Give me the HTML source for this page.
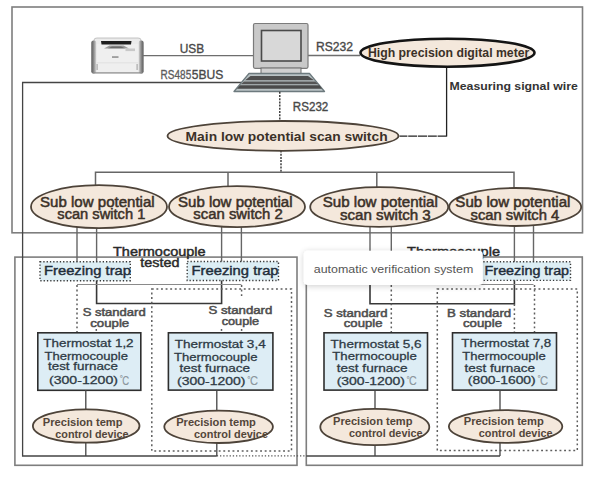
<!DOCTYPE html>
<html><head><meta charset="utf-8">
<style>
html,body{margin:0;padding:0;background:#fff;width:600px;height:477px;overflow:hidden}
svg{position:absolute;left:0;top:0}
text{font-family:"Liberation Sans",sans-serif}
.tip{position:absolute;left:304px;top:251px;width:178px;height:34px;background:#fff;border-radius:4px;box-shadow:0 1px 4px rgba(0,0,0,0.18);font-family:"Liberation Sans",sans-serif;font-size:12.4px;color:#555;line-height:34px;box-sizing:border-box;padding-left:10px;white-space:nowrap}
</style></head><body>
<svg width="600" height="477" viewBox="0 0 600 477">
<!-- frames -->
<g fill="none" stroke="#7e7e7e" stroke-width="1.6">
<rect x="12" y="7" width="570.5" height="225.8"/>
<rect x="14.9" y="257.1" width="282.1" height="208.2"/>
<rect x="306.3" y="257" width="276" height="208.3"/>
</g>
<!-- printer -->
<defs>
<linearGradient id="pl" x1="0" x2="1" y1="0" y2="0"><stop offset="0" stop-color="#5a5a5a"/><stop offset="0.5" stop-color="#8d8d8d"/><stop offset="1" stop-color="#d6d6d6"/></linearGradient>
<linearGradient id="pr" x1="0" x2="1" y1="0" y2="0"><stop offset="0" stop-color="#d6d6d6"/><stop offset="0.5" stop-color="#8d8d8d"/><stop offset="1" stop-color="#5a5a5a"/></linearGradient>
</defs>
<g>
<path d="M94 40 Q94 38 97 38 L138 38 Q141 38 141 40 L141 48 L94 48 Z" fill="#ebebeb" stroke="#b5b5b5" stroke-width="0.8"/>
<rect x="91.5" y="44" width="52" height="29.5" rx="2.5" fill="#efefef"/>
<rect x="91.3" y="40.5" width="5" height="33" rx="2.2" fill="url(#pl)"/>
<rect x="138.6" y="40.5" width="5" height="33" rx="2.2" fill="url(#pr)"/>
<path d="M101 41 L131.5 41 L131 44.6 L101.5 44.6 Z" fill="#1e1e1e"/>
<path d="M104 48.5 L129 48.5 L123.5 45.5 L109.5 45.5 Z" fill="#9a9a9a"/>
<path d="M108 48.3 L125 48.3 L121 46.5 L112 46.5 Z" fill="#6a6a6a"/>
<rect x="125.5" y="48.5" width="9.5" height="2.6" fill="#c8c8c8"/>
<rect x="112" y="56.3" width="6.5" height="1.5" fill="#8a8a8a"/>
<rect x="96.5" y="64" width="1.2" height="6" fill="#aaa"/>
<rect x="136.5" y="64" width="1.2" height="6" fill="#aaa"/>
<rect x="97" y="62.5" width="41" height="0.8" fill="#dcdcdc"/>
<rect x="92.5" y="72.3" width="50" height="1.2" fill="#8a8a8a"/>
</g>
<!-- USB / RS485 lines -->
<g stroke="#6e6e6e" stroke-width="1.3" fill="none">
<line x1="143" y1="55.7" x2="253" y2="55.7"/>
<line x1="308" y1="55.5" x2="360" y2="55.5"/>
</g>
<g stroke="#444" stroke-width="1.3" fill="none">
<polyline points="241.5,82.5 22.6,82.5 22.6,456 216.8,456"/>
<line x1="306.3" y1="456" x2="500" y2="456"/>
</g>
<line x1="216.8" y1="455.8" x2="306" y2="455.8" stroke="#555" stroke-width="1.3" stroke-dasharray="1.3 1.9"/>
<!-- computer -->
<g>
<rect x="253.5" y="23.5" width="54.5" height="44.8" rx="1.5" fill="#c9c9c9" stroke="#7b7b7b" stroke-width="1.2"/>
<rect x="261.5" y="30.5" width="39.5" height="30.5" fill="#d8d8d8" stroke="#4a4a4a" stroke-width="1.6"/>
<rect x="261" y="68" width="40" height="5.6" fill="#d0d0d0" stroke="#6a6a6a" stroke-width="1"/>
<path d="M249 73.5 L309.5 73.5 L324.5 91.5 L234 91.5 Z" fill="#b9c2c4" stroke="#6d7a7e" stroke-width="1.3" stroke-linejoin="round"/>
<path d="M250.5 76 L308 76 L314 80.3 L245 80.3 Z" fill="#4e4e4e"/>
<path d="M244 81.5 L315 81.5 L318.5 84.3 L241 84.3 Z" fill="#555"/>
<path d="M240 85.3 L319.5 85.3 L322 88.8 L237 88.8 Z" fill="#4a4a4a"/>
</g>
<!-- dashed vertical -->
<g stroke="#222" stroke-width="1.3" stroke-dasharray="2 1.2" fill="none">
<line x1="279.8" y1="91.8" x2="279.8" y2="120.5"/>
<line x1="281" y1="150.5" x2="281" y2="172.3"/>
<line x1="446.6" y1="136.2" x2="399.5" y2="136.2" stroke-dasharray="9 0.8"/>
</g>
<line x1="446.6" y1="67.3" x2="446.6" y2="136.5" stroke="#222" stroke-width="1.3"/>
<!-- meter ellipse -->
<ellipse cx="447.5" cy="52.7" rx="87" ry="14" fill="#f4e8dc" stroke="#141414" stroke-width="2.6"/>
<!-- main ellipse -->
<ellipse cx="283" cy="135.9" rx="115.5" ry="14.9" fill="#f4e8dc" stroke="#4d4339" stroke-width="1.8"/>
<!-- tree lines -->
<g stroke="#666" stroke-width="1.5" fill="none">
<polyline points="95.5,185 95.5,172.3 514,172.3 514,188"/>
<line x1="228" y1="172.3" x2="228" y2="186"/>
<line x1="376.8" y1="172.3" x2="376.8" y2="187.3"/>
</g>
<!-- lines from sub switches down -->
<g stroke="#666" stroke-width="1.4" fill="none">
<line x1="77" y1="226" x2="77" y2="262"/>
<line x1="96.6" y1="228" x2="96.6" y2="262"/>
<line x1="221.6" y1="226" x2="221.6" y2="262"/>
<line x1="241.4" y1="226" x2="241.4" y2="262"/>
<line x1="391.3" y1="226" x2="391.3" y2="262"/>
<line x1="370" y1="226" x2="370" y2="262"/>
<line x1="514.4" y1="226" x2="514.4" y2="262"/>
<line x1="533.5" y1="226" x2="533.5" y2="262"/>
</g>
<g stroke="#383838" stroke-width="1.6" fill="none">
<polyline points="96.6,262 96.6,303.5 221.6,303.5 221.6,262"/>
<polyline points="370,262 370,303.7 514.4,303.7 514.4,262"/>
</g>
<!-- sub ellipses -->
<g fill="#f4e8dc" stroke="#4d4339" stroke-width="1.8">
<ellipse cx="99" cy="206.7" rx="68" ry="21.5"/>
<ellipse cx="237" cy="206.7" rx="68" ry="20.5"/>
<ellipse cx="379.2" cy="207" rx="69" ry="19.8"/>
<ellipse cx="515.2" cy="207" rx="66" ry="19"/>
</g>
<!-- gray joiner lines -->
<g stroke="#8a8a8a" stroke-width="1.2">
<line x1="77" y1="284.5" x2="241.4" y2="284.5"/>
<line x1="391.3" y1="284.5" x2="533.5" y2="284.5"/>
</g>
<!-- dotted lines -->
<g stroke="#5e5e5e" stroke-width="1.5" stroke-dasharray="1.9 2.7" fill="none">
<line x1="77" y1="285" x2="77" y2="332"/>
<line x1="241.6" y1="285" x2="241.6" y2="298"/>
<line x1="241.6" y1="329" x2="241.6" y2="332"/>
<line x1="221.5" y1="329" x2="221.5" y2="332"/>
<line x1="96.3" y1="329" x2="96.3" y2="332"/>
<line x1="534.5" y1="285" x2="534.5" y2="332"/>
<rect x="151.8" y="289" width="139.7" height="162"/>
<line x1="391.3" y1="285" x2="391.3" y2="332"/>
<line x1="514.4" y1="304" x2="514.4" y2="332"/>
<rect x="437.3" y="289" width="140" height="161.5"/>
</g>
<!-- freezing traps -->
<g fill="#ddeef4" stroke="#3a3a3a" stroke-width="1.4" stroke-dasharray="1.3 2"> 
<rect x="40" y="261.7" width="90.3" height="19"/>
<rect x="187.2" y="261.5" width="91.3" height="19"/>
<rect x="336" y="261.5" width="91.3" height="19"/>
<rect x="480" y="261.8" width="90.5" height="18.6"/>
</g>
<!-- thermostat boxes -->
<g fill="#ddedf5" stroke="#2e2e2e" stroke-width="1.6">
<rect x="37.8" y="332.8" width="103" height="57.5"/>
<rect x="168.4" y="332.8" width="104.5" height="57.3"/>
<rect x="324" y="332.8" width="103.5" height="57.3"/>
<rect x="452.5" y="332.8" width="104" height="57.3"/>
</g>
<!-- lines to precision devices -->
<g stroke="#444" stroke-width="1.3">
<line x1="85.8" y1="390" x2="85.8" y2="456"/>
<line x1="216.8" y1="390" x2="216.8" y2="456"/>
<line x1="375" y1="390" x2="375" y2="456"/>
<line x1="500" y1="390" x2="500" y2="456"/>
</g>
<!-- precision ellipses -->
<g fill="#f4e8dc" stroke="#4d4339" stroke-width="1.8">
<ellipse cx="86.2" cy="426" rx="53.3" ry="16.7"/>
<ellipse cx="218.6" cy="426.8" rx="54.3" ry="16.2"/>
<ellipse cx="374.8" cy="427" rx="54.5" ry="18.2"/>
<ellipse cx="505.6" cy="426.5" rx="56.7" ry="16.4"/>
</g>

<!-- TEXT -->
<g fill="#484848" font-size="12.5" stroke="#484848" stroke-width="0.35">
<text x="179.7" y="52.8" textLength="24.5" lengthAdjust="spacingAndGlyphs">USB</text>
<text x="160.6" y="79.2" font-size="13" fill="#5c5c5c" stroke="#5c5c5c" textLength="30.6" lengthAdjust="spacingAndGlyphs">RS485</text>
<text x="191.8" y="79.2" font-size="13" textLength="31.5" lengthAdjust="spacingAndGlyphs">5BUS</text>
<text x="316" y="50.6" font-size="12.2" textLength="37" lengthAdjust="spacingAndGlyphs">RS232</text>
<text x="292.8" y="110.6" font-size="12" textLength="35.5" lengthAdjust="spacingAndGlyphs">RS232</text>
</g>
<g fill="#3b3128" font-weight="bold">
<text x="368" y="57.2" font-size="12" textLength="161.3" lengthAdjust="spacingAndGlyphs">High precision digital meter</text>
<text x="185.6" y="140.6" font-size="12.4" textLength="202" lengthAdjust="spacingAndGlyphs">Main low potential scan switch</text>
</g>
<text x="449.5" y="90.4" font-size="11.6" font-weight="bold" fill="#333" textLength="128.3" lengthAdjust="spacingAndGlyphs">Measuring signal wire</text>
<!-- sub texts -->
<g fill="#3b3128" font-size="14" stroke="#3b3128" stroke-width="0.5">
<text x="40" y="206.7" textLength="114.7" lengthAdjust="spacingAndGlyphs">Sub low potential</text>
<text x="57.3" y="219.3" textLength="88" lengthAdjust="spacingAndGlyphs">scan switch 1</text>
<text x="178" y="206.7" textLength="114.5" lengthAdjust="spacingAndGlyphs">Sub low potential</text>
<text x="193.3" y="219.3" textLength="89.4" lengthAdjust="spacingAndGlyphs">scan switch 2</text>
<text x="322.7" y="206.7" textLength="115.2" lengthAdjust="spacingAndGlyphs">Sub low potential</text>
<text x="340" y="219.8" textLength="90.7" lengthAdjust="spacingAndGlyphs">scan switch 3</text>
<text x="455.3" y="206.7" textLength="115.2" lengthAdjust="spacingAndGlyphs">Sub low potential</text>
<text x="470.5" y="219.9" textLength="88.8" lengthAdjust="spacingAndGlyphs">scan switch 4</text>
</g>
<!-- thermocouple tested -->
<g fill="#2a2a2a" font-size="12.8" stroke="#2a2a2a" stroke-width="0.45">
<text x="113" y="256" textLength="92.6" lengthAdjust="spacingAndGlyphs">Thermocouple</text>
<text x="140.3" y="267" textLength="39.2" lengthAdjust="spacingAndGlyphs">tested</text>
<text x="407" y="256" textLength="93" lengthAdjust="spacingAndGlyphs">Thermocouple</text>
<text x="434" y="267" textLength="39.2" lengthAdjust="spacingAndGlyphs">tested</text>
</g>
<!-- freezing trap text -->
<g fill="#1f2d3a" font-size="12.8" stroke="#1f2d3a" stroke-width="0.42">
<text x="44" y="275.2" textLength="87" lengthAdjust="spacingAndGlyphs">Freezing trap</text>
<text x="191.6" y="275.2" textLength="87" lengthAdjust="spacingAndGlyphs">Freezing trap</text>
<text x="340" y="275.2" textLength="87" lengthAdjust="spacingAndGlyphs">Freezing trap</text>
<text x="484.6" y="275.2" textLength="84.5" lengthAdjust="spacingAndGlyphs">Freezing trap</text>
</g>
<!-- standard couple -->
<g fill="#4e4e4e" font-size="11" stroke="#4e4e4e" stroke-width="0.5">
<text x="82.7" y="315.5" textLength="63" lengthAdjust="spacingAndGlyphs">S standard</text>
<text x="90.2" y="326.6" textLength="39" lengthAdjust="spacingAndGlyphs">couple</text>
<text x="208.4" y="314.2" textLength="64" lengthAdjust="spacingAndGlyphs">S standard</text>
<text x="221.7" y="324.6" textLength="37.5" lengthAdjust="spacingAndGlyphs">couple</text>
<text x="323.8" y="316.7" textLength="63.7" lengthAdjust="spacingAndGlyphs">S standard</text>
<text x="343.8" y="326.7" textLength="38.7" lengthAdjust="spacingAndGlyphs">couple</text>
<text x="447" y="316.7" textLength="64.2" lengthAdjust="spacingAndGlyphs">B standard</text>
<text x="463" y="326.7" textLength="39" lengthAdjust="spacingAndGlyphs">couple</text>
</g>
<!-- thermostat text -->
<g fill="#2e3a44" font-size="11.3" stroke="#2e3a44" stroke-width="0.28">
<text x="43.3" y="346.5" textLength="90.3" lengthAdjust="spacingAndGlyphs">Thermostat 1,2</text>
<text x="44.4" y="360.3" textLength="83.6" lengthAdjust="spacingAndGlyphs">Thermocouple</text>
<text x="48" y="370.3" textLength="70" lengthAdjust="spacingAndGlyphs">test furnace</text>
<text x="49" y="384.3" textLength="68.9" lengthAdjust="spacingAndGlyphs">(300-1200)</text>

<text x="174.7" y="347.5" textLength="91" lengthAdjust="spacingAndGlyphs">Thermostat 3,4</text>
<text x="174" y="360.5" textLength="83.5" lengthAdjust="spacingAndGlyphs">Thermocouple</text>
<text x="179.5" y="372.4" textLength="70.5" lengthAdjust="spacingAndGlyphs">test furnace</text>
<text x="177" y="384.6" textLength="68.4" lengthAdjust="spacingAndGlyphs">(300-1200)</text>

<text x="330.6" y="347.5" textLength="91" lengthAdjust="spacingAndGlyphs">Thermostat 5,6</text>
<text x="332.3" y="359.7" textLength="84.5" lengthAdjust="spacingAndGlyphs">Thermocouple</text>
<text x="336.7" y="371.9" textLength="71" lengthAdjust="spacingAndGlyphs">test furnace</text>
<text x="336.7" y="384.9" textLength="68.3" lengthAdjust="spacingAndGlyphs">(300-1200)</text>

<text x="461.3" y="347.2" textLength="90" lengthAdjust="spacingAndGlyphs">Thermostat 7,8</text>
<text x="462.3" y="359.7" textLength="83.5" lengthAdjust="spacingAndGlyphs">Thermocouple</text>
<text x="464.5" y="371.7" textLength="70.5" lengthAdjust="spacingAndGlyphs">test furnace</text>
<text x="467.8" y="384" textLength="67.9" lengthAdjust="spacingAndGlyphs">(800-1600)</text>
</g>
<g fill="#8a959c" stroke="#8a959c" stroke-width="0.15">
<text x="119.7" y="381.4" font-size="8">°</text>
<text x="122.3" y="384.6" font-size="12.4" textLength="6.9" lengthAdjust="spacingAndGlyphs">C</text>
<text x="247.3" y="381.9" font-size="8">°</text>
<text x="249.9" y="385.1" font-size="12.4" textLength="8.0" lengthAdjust="spacingAndGlyphs">C</text>
<text x="406.4" y="381.8" font-size="8">°</text>
<text x="409.0" y="385.0" font-size="12.4" textLength="7.7" lengthAdjust="spacingAndGlyphs">C</text>
<text x="537.4" y="381.3" font-size="8">°</text>
<text x="540.0" y="384.5" font-size="12.4" textLength="8.1" lengthAdjust="spacingAndGlyphs">C</text>
</g>
<!-- precision text -->
<g fill="#53463a" font-size="10.6" font-weight="bold">
<text x="42.8" y="426.2" textLength="79.7" lengthAdjust="spacingAndGlyphs">Precision temp</text>
<text x="55.3" y="437.5" textLength="73.3" lengthAdjust="spacingAndGlyphs">control device</text>
<text x="176.2" y="426.2" textLength="79.6" lengthAdjust="spacingAndGlyphs">Precision temp</text>
<text x="194" y="437.5" textLength="74" lengthAdjust="spacingAndGlyphs">control device</text>
<text x="333" y="424.8" textLength="79.5" lengthAdjust="spacingAndGlyphs">Precision temp</text>
<text x="349" y="436.8" textLength="73.5" lengthAdjust="spacingAndGlyphs">control device</text>
<text x="463.8" y="424.8" textLength="80" lengthAdjust="spacingAndGlyphs">Precision temp</text>
<text x="478.8" y="436.8" textLength="73.7" lengthAdjust="spacingAndGlyphs">control device</text>
</g>
<defs><filter id="sh" x="-15%" y="-60%" width="130%" height="220%"><feGaussianBlur in="SourceAlpha" stdDeviation="3.2"/><feOffset dy="0.5"/><feComponentTransfer><feFuncA type="linear" slope="0.2"/></feComponentTransfer><feMerge><feMergeNode/><feMergeNode in="SourceGraphic"/></feMerge></filter></defs>
<rect x="303.8" y="250.8" width="179" height="34.2" rx="4" fill="#fff" filter="url(#sh)"/>
<text x="313.8" y="272.9" font-size="11.6" fill="#555" textLength="159.5" lengthAdjust="spacingAndGlyphs">automatic verification system</text>
</svg>
</body></html>
